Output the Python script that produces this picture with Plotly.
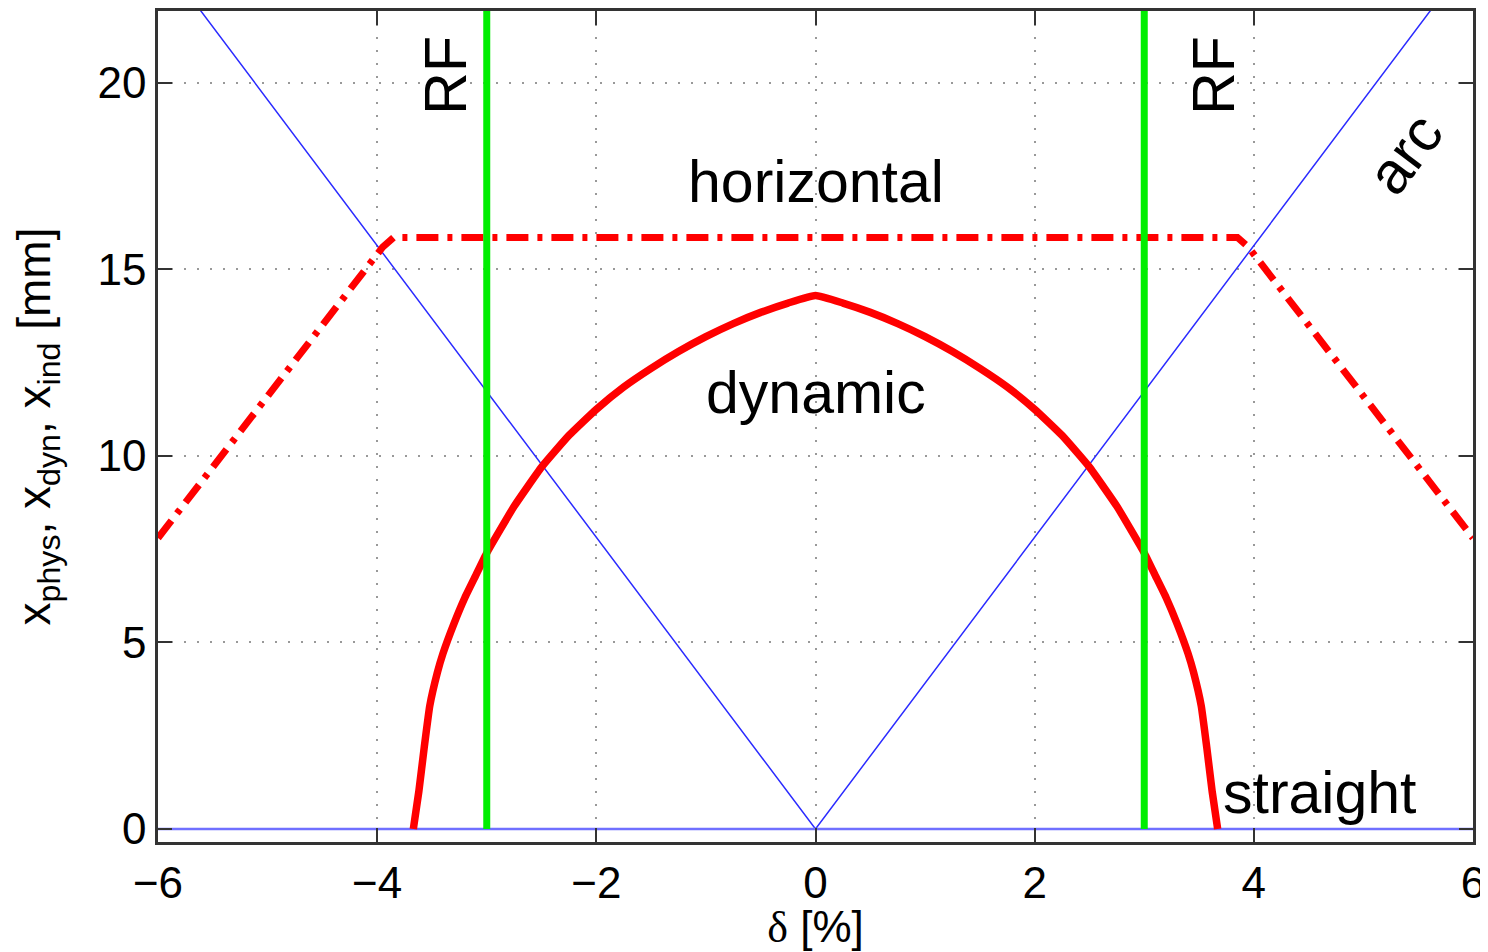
import plotly.graph_objects as go

# momentum offset delta [%] and apertures [mm]
arc_x = [-6, 0, 6]
arc_y = [23.46, 0, 23.46]

straight_x = [-6, 6]
straight_y = [0, 0]

horiz_x = [-6, -3.95, -3.85, 3.85, 3.95, 6]
horiz_y = [7.8, 15.6, 15.86, 15.86, 15.6, 7.8]

dyn_x = [-3.67, -3.62, -3.57, -3.52, -3.45, -3.4, -3.3, -3.2, -3.1, -3.0, -2.75, -2.5,
         -2.25, -2.0, -1.75, -1.5, -1.25, -1.0, -0.75, -0.5, -0.25, 0,
         0.25, 0.5, 0.75, 1.0, 1.25, 1.5, 1.75, 2.0, 2.25,
         2.5, 2.75, 3.0, 3.1, 3.2, 3.3, 3.4, 3.45, 3.52, 3.57, 3.62, 3.67]
dyn_y = [0, 1.0, 2.2, 3.3, 4.2, 4.7, 5.5, 6.2, 6.8, 7.4, 8.65, 9.7,
         10.55, 11.25, 11.85, 12.35, 12.8, 13.2, 13.55, 13.85, 14.1, 14.3,
         14.1, 13.85, 13.55, 13.2, 12.8, 12.35, 11.85, 11.25, 10.55,
         9.7, 8.65, 7.4, 6.8, 6.2, 5.5, 4.7, 4.2, 3.3, 2.2, 1.0, 0]

rf_pos = [-3.0, 3.0]
rf_top = 21.93

font = "Liberation Sans, Arial, sans-serif"

fig = go.Figure()

fig.add_trace(go.Scatter(x=arc_x, y=arc_y, mode="lines",
                         line=dict(color="#2b2bff", width=1.5)))
fig.add_trace(go.Scatter(x=straight_x, y=straight_y, mode="lines",
                         line=dict(color="#7070ff", width=2.5)))
fig.add_trace(go.Scatter(x=horiz_x, y=horiz_y, mode="lines",
                         line=dict(color="#ff0000", width=7, dash="22px,9px,5px,9px")))
fig.add_trace(go.Scatter(x=dyn_x, y=dyn_y, mode="lines",
                         line=dict(color="#ff0000", width=7.5, shape="spline", smoothing=0.4)))
for xr in rf_pos:
    fig.add_trace(go.Scatter(x=[xr, xr], y=[0, rf_top], mode="lines",
                             line=dict(color="#00ee00", width=7)))

# text labels
labels = [
    dict(x=0, y=17.35, text="horizontal", textangle=0, xanchor="center"),
    dict(x=0, y=11.7, text="dynamic", textangle=0, xanchor="center"),
    dict(x=3.7, y=0.96, text="straight", textangle=0, xanchor="left"),
    dict(x=-3.38, y=20.2, text="RF", textangle=-90, xanchor="center"),
    dict(x=3.63, y=20.2, text="RF", textangle=-90, xanchor="center"),
    dict(x=5.38, y=18.1, text="arc", textangle=-53, xanchor="center"),
]
for lb in labels:
    fig.add_annotation(x=lb["x"], y=lb["y"], text=lb["text"], textangle=lb["textangle"],
                       xanchor=lb["xanchor"], yanchor="middle", showarrow=False,
                       font=dict(family=font, size=59, color="black"))

axis_common = dict(
    showline=True, linecolor="#333333", linewidth=2.5, mirror="ticks",
    ticks="inside", ticklen=14, tickwidth=2, tickcolor="#333333",
    showgrid=True, gridcolor="#999999", gridwidth=1.5, griddash="2px,11px",
    zeroline=False, ticklabeloverflow="allow",
    tickfont=dict(family=font, size=44, color="black"),
)

fig.update_xaxes(range=[-6, 6], tickvals=[-6, -4, -2, 0, 2, 4, 6],
                 title=dict(text='<span style="font-family:Liberation Serif">δ</span> [%]',
                            font=dict(family=font, size=44, color="black"), standoff=0),
                 **axis_common)
fig.update_yaxes(range=[-0.35, 21.93], tickvals=[0, 5, 10, 15, 20],
                 title=dict(text="x<sub>phys</sub>, x<sub>dyn</sub>, x<sub>ind</sub> [mm]",
                            font=dict(family=font, size=46, color="black"), standoff=34),
                 **axis_common)

# page body adds an 8px margin, so the figure is made 8px smaller
fig.update_layout(
    width=1480, height=944,
    margin=dict(l=150, r=15, t=0, b=110),
    paper_bgcolor="white", plot_bgcolor="white",
    showlegend=False,
)

fig.write_html("out.html")
